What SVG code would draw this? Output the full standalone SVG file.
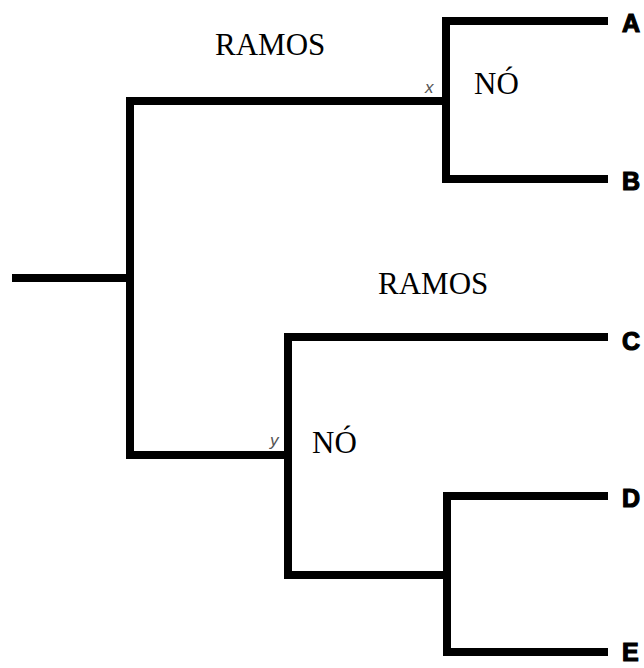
<svg xmlns="http://www.w3.org/2000/svg" width="644" height="668" viewBox="0 0 644 668">
<style>
.br{fill:none;stroke:#000;stroke-width:8;stroke-linejoin:miter;stroke-linecap:butt}
.lbl{font-family:"Liberation Serif","Times New Roman",serif;font-size:31px;fill:#000}
.tip{font-family:"Liberation Sans",Arial,sans-serif;font-weight:bold;font-size:25px;fill:#000;stroke:#000;stroke-width:1.2}
.nd{font-family:"Liberation Sans",Arial,sans-serif;font-style:italic;font-size:17px;fill:#555}
</style>
<rect width="644" height="668" fill="#fff"/>
<g id="connectors">
<path class="br" d="M12 278 H130"/>
<path class="br" d="M446 101 H130 V455 H288"/>
<path class="br" d="M608 21 H446 V179 H608"/>
<path class="br" d="M608 337 H288 V575 H447"/>
<path class="br" d="M608 496 H447 V652 H608"/>
</g>
<g id="node-x"><text class="nd" x="425" y="93">x</text></g>
<g id="node-y"><text class="nd" x="270" y="446">y</text></g>
<g id="label-ramos-1"><text class="lbl" x="215" y="55">RAMOS</text></g>
<g id="label-no-1"><text class="lbl" x="474" y="94">NÓ</text></g>
<g id="label-ramos-2"><text class="lbl" x="378" y="294">RAMOS</text></g>
<g id="label-no-2"><text class="lbl" x="312" y="453">NÓ</text></g>
<g id="tip-A"><text class="tip" x="622" y="32">A</text></g>
<g id="tip-B"><text class="tip" x="622" y="190">B</text></g>
<g id="tip-C"><text class="tip" x="622" y="350">C</text></g>
<g id="tip-D"><text class="tip" x="622" y="507">D</text></g>
<g id="tip-E"><text class="tip" x="622" y="661">E</text></g>
</svg>
